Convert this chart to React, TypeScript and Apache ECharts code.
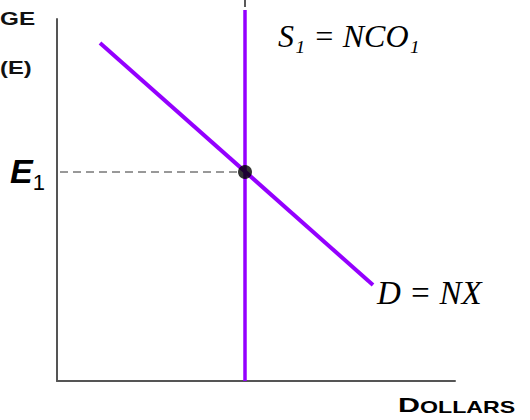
import React, { useEffect, useRef } from "react";
import * as echarts from "echarts";

// Data in chart units (x: dollars quantity, y: exchange rate)
const supplyLine: [number, number][] = [[188, 0], [188, 371]];
const supplyTopDash: [number, number][] = [[188, 374], [188, 381]];
const demandLine: [number, number][] = [[43, 338], [316, 96]];
const equilibrium: [number, number][] = [[188, 209]];
const guideLine: [number, number][] = [[3, 209], [183, 209]];

const PURPLE = "#9400ff";

export default function App() {
  const ref = useRef<HTMLDivElement>(null);
  useEffect(() => {
    if (!ref.current) return;
    const chart = echarts.init(ref.current, undefined, { renderer: "svg" });
    chart.setOption({
      animation: false,
      backgroundColor: "#ffffff",
      grid: { left: 57, right: 75, top: 19, bottom: 39 },
      xAxis: {
        type: "value",
        min: 0,
        max: 398,
        axisLine: { show: true, lineStyle: { color: "#555", width: 2 } },
        axisTick: { show: false },
        axisLabel: { show: false },
        splitLine: { show: false },
      },
      yAxis: {
        type: "value",
        min: 0,
        max: 362,
        axisLine: { show: true, lineStyle: { color: "#555", width: 2 } },
        axisTick: { show: false },
        axisLabel: { show: false },
        splitLine: { show: false },
      },
      series: [
        {
          type: "line",
          data: guideLine,
          symbol: "none",
          lineStyle: { color: "#333", width: 1, type: [8, 5] },
          silent: true,
          z: 1,
        },
        {
          type: "line",
          data: supplyLine,
          symbol: "none",
          clip: false,
          lineStyle: { color: PURPLE, width: 3.5 },
          z: 2,
        },
        {
          type: "line",
          data: supplyTopDash,
          symbol: "none",
          clip: false,
          lineStyle: { color: "#222", width: 1.5 },
          z: 2,
        },
        {
          type: "line",
          data: demandLine,
          symbol: "none",
          lineStyle: { color: PURPLE, width: 4 },
          z: 2,
        },
        {
          type: "scatter",
          data: equilibrium,
          symbolSize: 14,
          itemStyle: { color: "#000" },
          z: 10,
        },
      ],
      graphic: [
        {
          type: "text",
          x: 0,
          y: 10,
          scaleX: 1.35,
          style: { text: "GE", font: "bold 18px 'Liberation Sans', Arial", fill: "#111" },
        },
        {
          type: "text",
          x: 0,
          y: 58,
          scaleX: 1.25,
          style: { text: "(E)", font: "bold 19px 'Liberation Sans', Arial", fill: "#111" },
        },
        {
          type: "text",
          x: 10,
          y: 154,
          style: {
            text: "{e|E}{s|1}",
            rich: {
              e: { font: "italic bold 34px 'Liberation Sans', Arial", fill: "#000", verticalAlign: "bottom" },
              s: { font: "22px 'Liberation Sans', Arial", fill: "#000", verticalAlign: "bottom", padding: [0, 0, -5, 0] },
            },
          },
        },
        {
          type: "text",
          x: 278,
          y: 20,
          style: { text: "S\u2081 = NCO\u2081", font: "italic 32px 'Liberation Serif', serif", fill: "#000" },
        },
        {
          type: "text",
          x: 377,
          y: 276,
          style: { text: "D = NX", font: "italic 33px 'Liberation Serif', serif", fill: "#000" },
        },
        {
          type: "text",
          x: 398,
          y: 394,
          scaleX: 1.45,
          style: {
            text: "{a|D}{b|OLLARS}",
            rich: {
              a: { font: "bold 21px 'Liberation Sans', Arial", fill: "#000", verticalAlign: "bottom" },
              b: { font: "bold 16px 'Liberation Sans', Arial", fill: "#000", verticalAlign: "bottom" },
            },
          },
        },
      ],
    });
    return () => chart.dispose();
  }, []);
  return (
    <div
      ref={ref}
      style={{ position: "absolute", left: 0, top: 0, width: 530, height: 420 }}
    />
  );
}
